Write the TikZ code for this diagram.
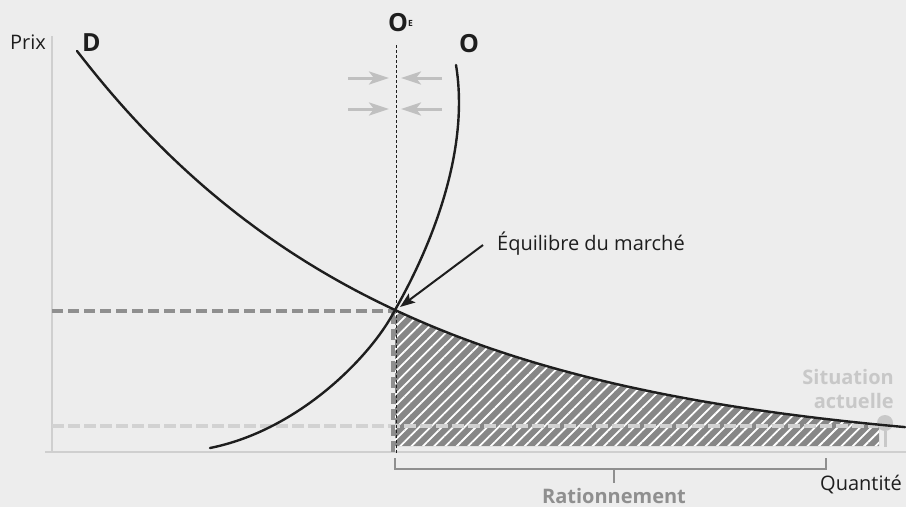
\documentclass[tikz,border=0pt]{standalone}
\usepackage{fontspec}
\setmainfont{Open Sans}
\usetikzlibrary{arrows.meta,patterns.meta}
\definecolor{bg}{HTML}{EDEDED}
\definecolor{axisgray}{HTML}{CFCFCF}
\definecolor{darkdash}{HTML}{8F8F8F}
\definecolor{lightdash}{HTML}{D2D2D2}
\definecolor{hatchgray}{HTML}{878787}
\definecolor{arrowgray}{HTML}{C0C0C0}
\definecolor{situgray}{HTML}{C8C8C8}
\definecolor{ink}{HTML}{1E1E1E}
\tikzset{
  curve/.style={draw=ink,line width=2.4pt,line cap=round},
  axisline/.style={draw=axisgray,line width=1.4pt},
  ddash/.style={draw=darkdash,line width=4pt,dash pattern=on 11pt off 5pt},
  ldash/.style={draw=lightdash,line width=3.5pt,dash pattern=on 12pt off 4pt},
  oeline/.style={draw=ink,line width=1pt,dash pattern=on 3pt off 2pt},
  grayarrow/.style={draw=arrowgray,line width=3pt,-{Stealth[length=20pt,width=13pt,inset=5pt]}},
  lbl/.style={inner sep=0pt,font=\fontsize{20}{24}\selectfont,text=ink},
  biglbl/.style={inner sep=0pt,font=\fontsize{25}{28}\selectfont\bfseries,text=ink},
  situ/.style={inner sep=0pt,font=\fontsize{20}{24}\selectfont\bfseries,text=situgray},
  bracket/.style={draw=darkdash,line width=2.5pt},
}
\begin{document}
\begin{tikzpicture}[x=1pt,y=-1pt]
\useasboundingbox (0,0) rectangle (906,507);
\fill[bg] (0,0) rectangle (906,507);
% axes
\draw[axisline] (52,36) -- (52,452);
\draw[axisline] (45,452) -- (906,452);
% hatched area
\path[fill=hatchgray,postaction={pattern={Lines[angle=45,distance=8pt,line width=1.8pt]},pattern color=white}]
  plot[domain=395:879,samples=60] (\x,{455.2-404.2*exp(-0.00322*(\x-77))})
  -- (879,446) -- (395,446) -- cycle;
% dashed guides
\coordinate (eq) at (395,310);
\coordinate (pl) at (52,311);
\coordinate (ql) at (393,452);
\coordinate (sl) at (52,426);
\coordinate (sr) at (878,426);
\draw[ldash] (sl) -- (sr);
\draw[ddash] (pl) -- (393,311);
\draw[ddash] (393,313) -- (ql);
% O_E line
\coordinate (oetop) at (396,45);
\coordinate (oebot) at (396,453);
\draw[oeline] (oetop) -- (oebot);
% situation marker
\node[circle,fill=situgray,minimum size=16pt,inner sep=0pt] (situ) at (885,423) {};
\coordinate (stemb) at (885,447);
\draw[draw=situgray,line width=3pt] (situ.south) -- (stemb);
% curves
\draw[curve] plot[domain=77:905,samples=120] (\x,{455.2-404.2*exp(-0.00322*(\x-77))});
\draw[curve] (210,448) .. controls (300,430) and (372,355) .. (eq)
  .. controls (432,245) and (470,150) .. (456,65);
% gray arrows
\coordinate (a1s) at (348,78); \coordinate (a1e) at (389,78);
\coordinate (a2s) at (348,109); \coordinate (a2e) at (389,109);
\coordinate (b1s) at (442,78); \coordinate (b1e) at (401,78);
\coordinate (b2s) at (442,109); \coordinate (b2e) at (401,109);
\draw[grayarrow] (a1s) -- (a1e);
\draw[grayarrow] (a2s) -- (a2e);
\draw[grayarrow] (b1s) -- (b1e);
\draw[grayarrow] (b2s) -- (b2e);
% equilibrium arrow
\coordinate (eqs) at (483,245);
\coordinate (eqt) at (400,307);
\draw[draw=ink,line width=2pt,-{Stealth[length=15pt,width=11pt,inset=3pt]}] (eqs) -- (eqt);
% bracket
\coordinate (brl) at (395,458);
\coordinate (brr) at (826,458);
\draw[bracket] (brl) -- (395,469) -- (826,469) -- (brr);
\coordinate (brm) at (614,483);
\draw[bracket] (614,469) -- (brm);
% labels
\node[lbl,anchor=base west] (prix) at (10,49) {Prix};
\node[biglbl,anchor=base west] (dlab) at (82,51) {D};
\node[biglbl,anchor=base west] (olab) at (459,52) {O};
\node[biglbl,anchor=base west] (oelab) at (388,31) {O\raisebox{5pt}{\fontsize{8.5}{9}\selectfont E}};
\node[lbl,anchor=base west] (eqlab) at (497,250) {Équilibre du marché};
\node[situ,anchor=base east] (sit1) at (894,384) {Situation};
\node[situ,anchor=base east] (sit2) at (894,408) {actuelle};
\node[lbl,anchor=base] (rat) at (614,503) {\bfseries\color{darkdash}Rationnement};
\node[lbl,anchor=base west] (qty) at (820,490) {Quantité};
\end{tikzpicture}
\end{document}
